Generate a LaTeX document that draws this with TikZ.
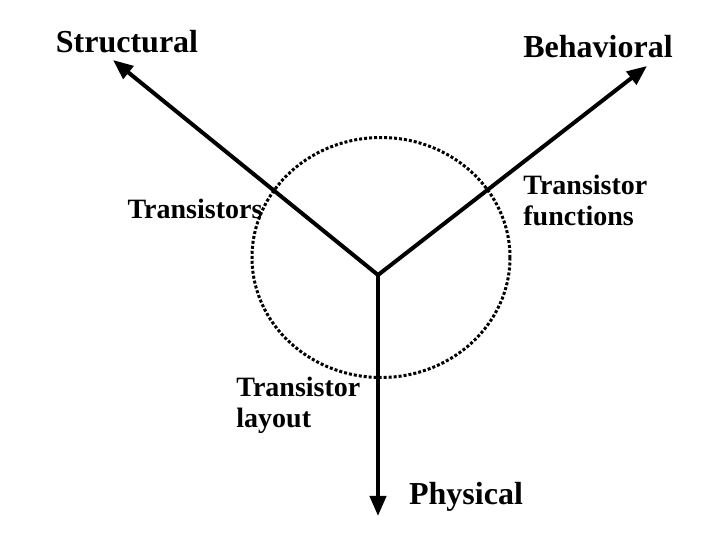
\documentclass[tikz,border=0pt]{standalone}
\usepackage{fontspec}
\setmainfont{Liberation Serif}
\usetikzlibrary{arrows.meta, positioning}

\begin{document}
\begin{tikzpicture}[x=0.5pt, y=-0.5pt,
    axis/.style={line width=2pt, -{Triangle[length=10pt, width=8pt]}},
    axislabel/.style={font=\fontsize{16}{19}\selectfont\bfseries, inner sep=0pt},
    levellabel/.style={font=\fontsize{14}{15.5}\selectfont\bfseries, inner sep=0pt, align=left}]
    \useasboundingbox (0,0) rectangle (720,540);
    \coordinate (o) at (378,275);
    \coordinate (s) at (113,60);
    \coordinate (b) at (647,66);
    \coordinate (p) at (378,516);
    % level ring
    \draw[line width=1.5pt, dash pattern=on 1.5pt off 1pt] (381,257.5) ellipse [x radius=129, y radius=120];
    \draw[axis] (o) -- (s);
    \draw[axis] (o) -- (b);
    \draw[axis] (o) -- (p);
    \node[axislabel] (structural) at (127,42) {Structural};
    \node[axislabel] (behavioral) at (598,47) {Behavioral};
    \node[axislabel] (physical) at (466,497) {Physical};
    \node[levellabel] (trans) at (195,209) {Transistors};
    \node[levellabel, anchor=west] (func) at (523,200) {Transistor\\functions};
    \node[levellabel, anchor=west] (layout) at (236,405) {Transistor\\layout};
\end{tikzpicture}
\end{document}
